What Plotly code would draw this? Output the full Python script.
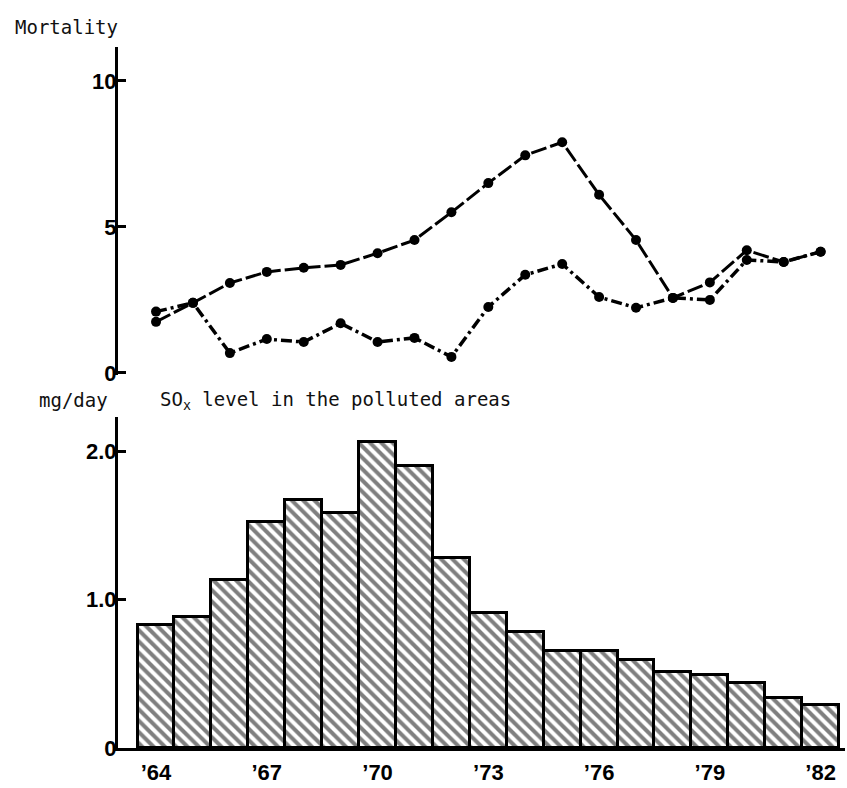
import plotly.graph_objects as go

# Survey years (1964-1982)
years = list(range(1964, 1983))

# Mortality, two series
mortality_a = [1.75, 2.4, 3.08, 3.46, 3.6, 3.7, 4.1, 4.55, 5.5, 6.5, 7.45, 7.9,
               6.1, 4.55, 2.57, 3.1, 4.2, 3.8, 4.15]
mortality_b = [2.1, 2.4, 0.68, 1.16, 1.06, 1.7, 1.06, 1.2, 0.55, 2.26, 3.36, 3.73,
               2.6, 2.23, 2.57, 2.5, 3.87, 3.8, 4.15]

# SOx level in the polluted areas (mg/day)
sox = [0.83, 0.88, 1.13, 1.52, 1.67, 1.58, 2.06, 1.90, 1.28, 0.91, 0.78, 0.65,
       0.65, 0.59, 0.51, 0.49, 0.44, 0.34, 0.29]

x_tick_vals = [1964, 1967, 1970, 1973, 1976, 1979, 1982]
x_tick_text = ["’64", "’67", "’70", "’73", "’76", "’79", "’82"]
mort_ticks = [0, 5, 10]
mort_tick_text = ["0", "5", "10"]
sox_ticks = [0, 1.0, 2.0]
sox_tick_text = ["0", "1.0", "2.0"]

W, H = 847, 788
X_RANGE = [1962.97, 1982.66]
X_DOMAIN = [118 / W, 845 / W]

tick_font = dict(family="Liberation Sans, Arial, sans-serif", size=22,
                 color="black", weight="bold")
label_font = dict(family="DejaVu Sans Mono, monospace", size=19, color="#111")

fig = go.Figure()

# Mortality lines (upper panel)
fig.add_trace(go.Scatter(
    x=years, y=mortality_a, xaxis="x2", yaxis="y2", mode="lines+markers",
    line=dict(color="black", width=3, dash="16px,4px"),
    marker=dict(color="black", size=10), showlegend=False))
fig.add_trace(go.Scatter(
    x=years, y=mortality_b, xaxis="x2", yaxis="y2", mode="lines+markers",
    line=dict(color="black", width=3.5, dash="11px,4px,3px,4px"),
    marker=dict(color="black", size=10), showlegend=False))

# SOx bars (lower panel), hatched
fig.add_trace(go.Bar(
    x=years, y=sox, xaxis="x", yaxis="y", width=1.0,
    marker=dict(color="white",
                line=dict(color="black", width=3),
                pattern=dict(shape="\\", size=8, solidity=0.5,
                             fgcolor="black", bgcolor="white")),
    showlegend=False))

fig.update_layout(
    width=W, height=H,
    margin=dict(l=0, r=0, t=0, b=0),
    paper_bgcolor="white", plot_bgcolor="white",
    bargap=0,
    xaxis=dict(domain=X_DOMAIN, range=X_RANGE, anchor="y",
               showline=True, linecolor="black", linewidth=3,
               showgrid=False, zeroline=False,
               tickvals=x_tick_vals, ticktext=x_tick_text,
               ticks="outside", ticklen=3, tickcolor="rgba(0,0,0,0)",
               tickfont=tick_font, automargin=False),
    yaxis=dict(domain=[1 - 748 / H, 1 - 417 / H], range=[0, 2.229],
               anchor="x", showline=True, linecolor="black", linewidth=3,
               showgrid=False, zeroline=False,
               tickvals=sox_ticks, ticktext=sox_tick_text,
               ticks="inside", ticklen=8, tickwidth=3, tickcolor="black",
               ticklabelstandoff=-6,
               tickfont=tick_font, automargin=False),
    xaxis2=dict(domain=X_DOMAIN, range=X_RANGE, anchor="y2",
                showline=False, showgrid=False, zeroline=False,
                showticklabels=False, ticks=""),
    yaxis2=dict(domain=[1 - 375 / H, 1 - 47 / H], range=[-0.07, 11.16],
                anchor="x2", showline=True, linecolor="black", linewidth=3,
                showgrid=False, zeroline=False,
                tickvals=mort_ticks, ticktext=mort_tick_text,
                ticks="inside", ticklen=8, tickwidth=3, tickcolor="black",
                ticklabelstandoff=-6,
                tickfont=tick_font, automargin=False),
    annotations=[
        dict(text="Mortality", x=13 / W, y=1 - 27 / H, xref="paper", yref="paper",
             xanchor="left", yanchor="middle", showarrow=False, font=label_font),
        dict(text="mg/day", x=37 / W, y=1 - 400 / H, xref="paper", yref="paper",
             xanchor="left", yanchor="middle", showarrow=False, font=label_font),
        dict(text="SO<sub>x</sub> level in the polluted areas", x=158 / W,
             y=1 - 400 / H, xref="paper", yref="paper",
             xanchor="left", yanchor="middle", showarrow=False, font=label_font),
    ],
)

fig.write_html("out.html")
